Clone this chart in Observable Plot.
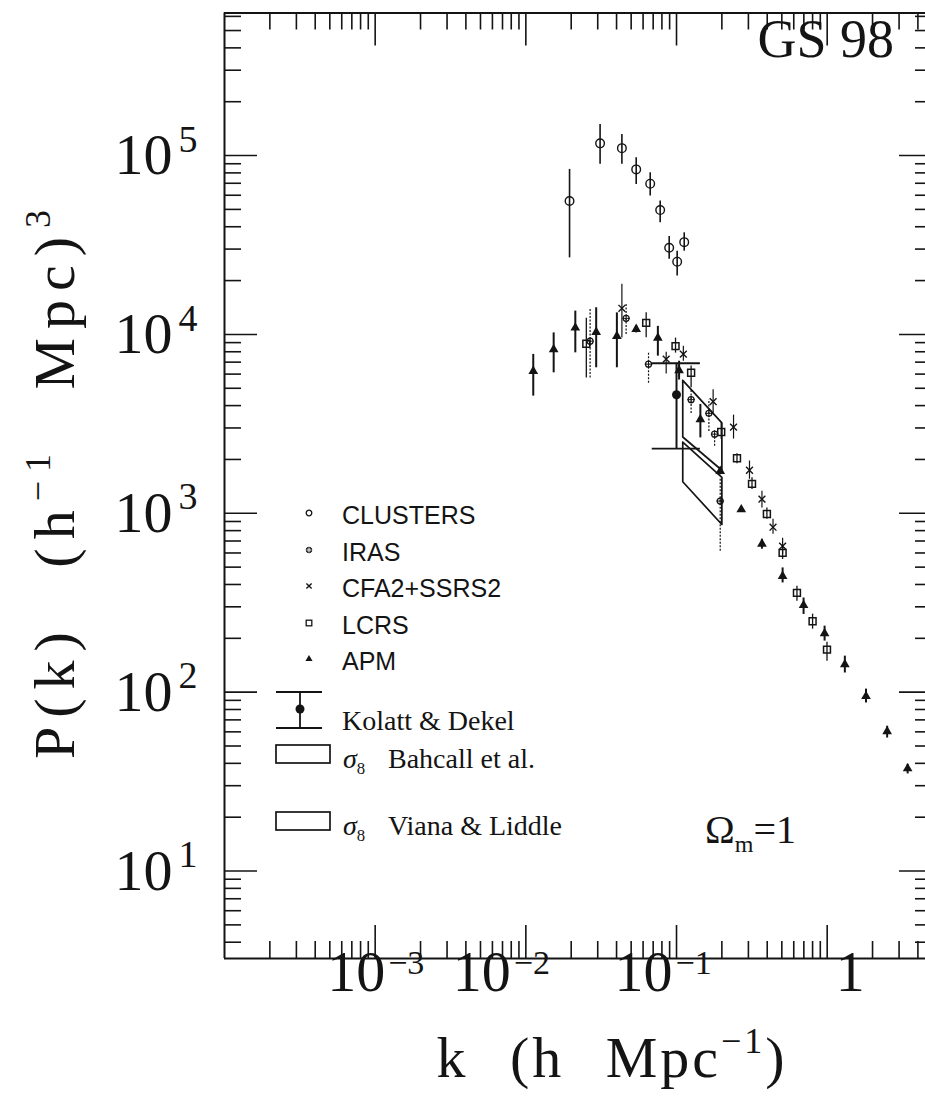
<!DOCTYPE html>
<html>
<head>
<meta charset="utf-8">
<script src="https://cdn.jsdelivr.net/npm/d3@7"></script>
<script src="https://cdn.jsdelivr.net/npm/@observablehq/plot@0.6"></script>
<style>
  html, body { margin: 0; padding: 0; background: #fff; overflow: hidden; }
  #chart { width: 925px; height: 1099px; overflow: hidden; }
  #chart svg { display: block; max-width: none !important; overflow: hidden; }
</style>
</head>
<body>
<div id="chart"></div>
<script>
// Power spectrum P(k) of matter fluctuations: clusters, galaxy surveys,
// peculiar velocities and sigma_8 normalisation boxes (Omega_m = 1).

// CLUSTERS (open circles)
const clusterK  = [0.0195, 0.0311, 0.0434, 0.0540, 0.0669, 0.0779, 0.0894, 0.101, 0.1125];
const clusterP  = [55700, 117000, 110000, 83700, 69600, 49600, 30500, 25500, 32800];
const clusterHi = [83700, 149000, 131000, 97200, 80100, 55700, 35300, 29200, 37000];
const clusterLo = [26800, 89300, 89300, 69000, 59400, 42100, 26300, 21200, 29200];

// IRAS
const irasK  = [0.0267, 0.0463, 0.0652, 0.125, 0.164, 0.179, 0.195];
const irasP  = [9170, 12300, 6820, 4320, 3620, 2770, 1170];
const irasHi = [13900, 14800, 7860, 4910, 4320, 2870, 1550];
const irasLo = [5700, 10000, 5340, 3610, 2870, 2370, 614];

// CFA2+SSRS2
const cfaK  = [0.0434, 0.0854, 0.111, 0.175, 0.239, 0.305, 0.369, 0.437, 0.506];
const cfaP  = [14000, 7280, 7760, 4210, 3030, 1740, 1200, 836, 655];
const cfaHi = [19100, 7960, 8600, 4910, 3540, 1960, 1330, 927, 726];
const cfaLo = [9540, 6000, 7090, 3560, 2600, 1550, 1070, 764, 591];

// LCRS
const lcrsK  = [0.0252, 0.0629, 0.0985, 0.125, 0.198, 0.252, 0.317, 0.398, 0.506, 0.630, 0.800, 0.997];
const lcrsP  = [8860, 11600, 8600, 6100, 2850, 2030, 1460, 992, 601, 359, 249, 173];
const lcrsHi = [12300, 13200, 9540, 6650, 3200, 2150, 1580, 1070, 655, 391, 273, 190];
const lcrsLo = [5700, 9570, 7860, 5030, 2590, 1890, 1360, 927, 552, 322, 225, 149];

// APM
const apmK  = [0.0112, 0.0153, 0.0213, 0.0293, 0.0402, 0.0540, 0.0752, 0.104, 0.144, 0.195,
               0.269, 0.369, 0.506, 0.697, 0.961, 1.31, 1.81, 2.50, 3.42];
const apmP  = [6230, 8250, 10900, 10300, 9780, 10700, 9570, 6290, 3350, 1720,
               1050, 675, 445, 306, 213, 143, 94.9, 60.4, 37.4];
const apmHi = [7730, 10200, 13500, 14100, 13200, 11200, 11100, 7080, 4060, 1800,
               1090, 716, 495, 336, 234, 159, 104, 64.5, 39.5];
const apmLo = [4520, 6100, 7890, 6510, 6510, 10200, 7560, 5560, 2640, 1640,
               1010, 630, 408, 272, 193, 128, 87.0, 55.4, 34.9];

// Kolatt & Dekel: P(k = 0.1) with its error and k window
const kdK = [0.1];
const kdP = [4600];
const kdHi = [6900];
const kdLo = [2300];
const kdKWindow = [0.069, 0.144];

// sigma_8 boxes: k range, upper and lower P at both ends
const sigma8K = [0.11, 0.20];
const bahcallTop = [5530, 3200];
const bahcallBottom = [2670, 1740];
const vianaTop = [2500, 1590];
const vianaBottom = [1500, 866];

// axes: domains, ticks and labels
const kDomain = [1e-4, 5];
const pDomain = [10 ** 0.511, 10 ** 5.797];
const xMajor = [1e-3, 1e-2, 1e-1, 1];
const xMinor = [-4, -3, -2, -1, 0].flatMap(e => [2, 3, 4, 5, 6, 7, 8, 9].map(m => m * 10 ** e)).filter(v => v < 5);
const yMajor = [1e1, 1e2, 1e3, 1e4, 1e5];
const yMinor = [0, 1, 2, 3, 4, 5].flatMap(e => [2, 3, 4, 5, 6, 7, 8, 9].map(m => m * 10 ** e)).filter(v => v > 3.3 && v < 6.2e5);
const xLabelTicks = [1e-3, 1e-2, 1e-1, 1];
const legendNames = ["CLUSTERS", "IRAS", "CFA2+SSRS2", "LCRS", "APM"];

// ---------------------------------------------------------------------------
// the frame runs on past the right edge of the page (k up to 5)
const W = 925, H = 1099;
const M = {left: 224, right: -7, top: 12.5, bottom: 141};
const innerW = W - M.left - M.right;
const innerH = H - M.top - M.bottom;
const ink = "#141414";
const serif = "'Liberation Serif', 'Times New Roman', serif";
const sans = "'Liberation Sans', Arial, sans-serif";
const MAJOR = 33, MINOR = 17;

const rows = (k, p, lo, hi) => k.map((d, i) => ({k: d, p: p[i], lo: lo[i], hi: hi[i]}));
const clusters = rows(clusterK, clusterP, clusterLo, clusterHi);
const iras = rows(irasK, irasP, irasLo, irasHi);
const cfa = rows(cfaK, cfaP, cfaLo, cfaHi);
const lcrs = rows(lcrsK, lcrsP, lcrsLo, lcrsHi);
const apm = rows(apmK, apmP, apmLo, apmHi);
const kd = kdK.map((k, i) => ({k, p: kdP[i], lo: kdLo[i], hi: kdHi[i], k1: kdKWindow[0], k2: kdKWindow[1]}));

const boxOutline = (name, top, bottom) => [
  {box: name, k: sigma8K[0], p: top[0]},
  {box: name, k: sigma8K[1], p: top[1]},
  {box: name, k: sigma8K[1], p: bottom[1]},
  {box: name, k: sigma8K[0], p: bottom[0]},
  {box: name, k: sigma8K[0], p: top[0]}
];
const boxes = [...boxOutline("Bahcall et al.", bahcallTop, bahcallBottom),
               ...boxOutline("Viana & Liddle", vianaTop, vianaBottom)];

// label nudges (px) for the k tick labels
const xLabelNudge = [10, -15, -4, 23];

const xLabelMarks = xLabelTicks.flatMap((t, i) => {
  const e = Math.round(Math.log10(t));
  if (e === 0) {
    return [Plot.text([t], {x: d => d, frameAnchor: "bottom", text: () => "1", dx: xLabelNudge[i], dy: 32,
      fontSize: 58, fontFamily: serif, fill: ink, textAnchor: "middle"})];
  }
  return [
    Plot.text([t], {x: d => d, frameAnchor: "bottom", text: () => "10", dx: xLabelNudge[i], dy: 32,
      fontSize: 58, fontFamily: serif, fill: ink, textAnchor: "end"}),
    Plot.text([t], {x: d => d, frameAnchor: "bottom", text: () => "\u2212" + (-e), dx: xLabelNudge[i] + 3, dy: 15,
      fontSize: 34, fontFamily: serif, fill: ink, textAnchor: "start"})
  ];
});

const chart = Plot.plot({
  width: W,
  height: H,
  marginLeft: M.left,
  marginRight: M.right,
  marginTop: M.top,
  marginBottom: M.bottom,
  style: {background: "white", overflow: "hidden"},
  x: {type: "log", domain: kDomain, range: [M.left, W - M.right], axis: null},
  y: {type: "log", domain: pDomain, axis: null},
  marks: [
    // inward ticks on all four sides
    Plot.ruleX(xMinor, {x: d => d, insetTop: innerH - MINOR, stroke: ink, strokeWidth: 1.6}),
    Plot.ruleX(xMinor, {x: d => d, insetBottom: innerH - MINOR, stroke: ink, strokeWidth: 1.6}),
    Plot.ruleX(xMajor, {x: d => d, insetTop: innerH - MAJOR, stroke: ink, strokeWidth: 1.6}),
    Plot.ruleX(xMajor, {x: d => d, insetBottom: innerH - MAJOR, stroke: ink, strokeWidth: 1.6}),
    Plot.ruleY(yMinor, {y: d => d, insetRight: innerW - MINOR, stroke: ink, strokeWidth: 1.6}),
    Plot.ruleY(yMinor, {y: d => d, insetLeft: innerW - MINOR, stroke: ink, strokeWidth: 1.6}),
    Plot.ruleY(yMajor, {y: d => d, insetRight: innerW - MAJOR, stroke: ink, strokeWidth: 1.6}),
    Plot.ruleY(yMajor, {y: d => d, insetLeft: innerW - MAJOR, stroke: ink, strokeWidth: 1.6}),

    // frame edges (the right edge falls beyond the page)
    Plot.ruleX(kDomain, {x: d => d, stroke: ink, strokeWidth: 2}),
    Plot.ruleY(pDomain, {y: d => d, stroke: ink, strokeWidth: 2}),

    // P(k) tick labels
    Plot.text(yMajor, {y: d => d, frameAnchor: "left", text: () => "10", dx: -52, textAnchor: "end",
      fontSize: 58, fontFamily: serif, fill: ink}),
    Plot.text(yMajor, {y: d => d, frameAnchor: "left", text: d => String(Math.round(Math.log10(d))), dx: -46, dy: -16,
      textAnchor: "start", fontSize: 38, fontFamily: serif, fill: ink}),
    ...xLabelMarks,

    // sigma_8 boxes
    Plot.line(boxes, {x: "k", y: "p", z: "box", stroke: ink, strokeWidth: 1.7}),

    // error bars
    Plot.ruleX(clusters, {x: "k", y1: "lo", y2: "hi", stroke: ink, strokeWidth: 1.6}),
    Plot.ruleX(apm, {x: "k", y1: "lo", y2: "hi", stroke: ink, strokeWidth: 2}),
    Plot.ruleX(lcrs, {x: "k", y1: "lo", y2: "hi", stroke: ink, strokeWidth: 1.3}),
    Plot.ruleX(cfa, {x: "k", y1: "lo", y2: "hi", stroke: ink, strokeWidth: 1.2}),
    Plot.ruleX(iras, {x: "k", y1: "lo", y2: "hi", stroke: ink, strokeWidth: 1.2, strokeDasharray: "2,1.5"}),

    // points
    Plot.dot(clusters, {x: "k", y: "p", r: 4.3, stroke: ink, fill: "none", strokeWidth: 1.4}),
    Plot.dot(lcrs, {x: "k", y: "p", symbol: "square", r: 3.9, stroke: ink, fill: "none", strokeWidth: 1.5}),
    Plot.dot(cfa, {x: "k", y: "p", symbol: "times", r: 3.2, stroke: ink, strokeWidth: 1.4}),
    Plot.dot(iras, {x: "k", y: "p", r: 3, stroke: ink, fill: "none", strokeWidth: 1.2}),
    Plot.dot(iras, {x: "k", y: "p", symbol: "plus", r: 2.6, stroke: ink, strokeWidth: 1}),
    Plot.dot(apm, {x: "k", y: "p", symbol: "triangle", r: 3.6, fill: ink, stroke: "none"}),

    // Kolatt & Dekel
    Plot.ruleX(kd, {x: "k", y1: "lo", y2: "hi", stroke: ink, strokeWidth: 2}),
    Plot.ruleY(kd, {y: "hi", x1: "k1", x2: "k2", stroke: ink, strokeWidth: 1.8}),
    Plot.ruleY(kd, {y: "lo", x1: "k1", x2: "k2", stroke: ink, strokeWidth: 1.8}),
    Plot.dot(kd, {x: "k", y: "p", r: 4.5, fill: ink, stroke: "none"}),

    // run label
    Plot.text(["GS 98"], {frameAnchor: "top-left", dx: 533, dy: 27, fontSize: 54, fontFamily: serif,
      fill: ink, textAnchor: "start", lineAnchor: "middle", letterSpacing: 1})
  ]
});

chart.style.maxWidth = "none";
document.getElementById("chart").append(chart);

// ---------------------------------------------------------------------------
// titles and legend
const svg = d3.select(chart);
const deco = svg.append("g")
  .attr("fill", ink)
  .attr("text-anchor", "start")
  .attr("font-family", serif);

function richText(parent, parts, {x, y, size, family, anchor = "start", rotate = 0, letterSpacing = 0, wordSpacing = 0}) {
  const t = parent.append("text")
    .attr("transform", `translate(${x},${y})` + (rotate ? ` rotate(${rotate})` : ""))
    .attr("text-anchor", anchor)
    .attr("font-family", family)
    .attr("font-size", size)
    .attr("letter-spacing", letterSpacing)
    .attr("word-spacing", wordSpacing)
    .attr("fill", ink);
  let shift = 0;
  for (const p of parts) {
    const target = p.sup ? -size * 0.42 : p.sub ? size * 0.22 : 0;
    t.append("tspan")
      .attr("dy", target - shift)
      .attr("font-size", p.sup || p.sub ? size * (p.scale || 0.62) : size)
      .attr("font-style", p.italic ? "italic" : null)
      .text(p.t);
    shift = target;
  }
  return t;
}

// axis titles
richText(deco, [{t: "P(k) (h"}, {t: "\u22121", sup: true}, {t: " Mpc)"}, {t: "3", sup: true}],
  {x: 74, y: 480, size: 58, family: serif, anchor: "middle", rotate: -90, letterSpacing: 9, wordSpacing: 32});
richText(deco, [{t: "k (h Mpc"}, {t: "\u22121", sup: true}, {t: ")"}],
  {x: 612, y: 1077, size: 58, family: serif, anchor: "middle", letterSpacing: 3, wordSpacing: 24});

// Omega_m annotation
richText(deco, [{t: "\u03A9"}, {t: "m", sub: true, scale: 0.6}, {t: "=1"}],
  {x: 705, y: 843, size: 40, family: serif});

// legend: survey symbols
const legendY = [513, 550, 586, 623, 659];
const legendSym = [
  g => g.append("circle").attr("r", 2.8).attr("fill", "none").attr("stroke", ink).attr("stroke-width", 1.3),
  g => { g.append("circle").attr("r", 2.8).attr("fill", "#555").attr("stroke", ink).attr("stroke-width", 1);
         g.append("path").attr("d", "M-2.5,0H2.5M0,-2.5V2.5").attr("stroke", "#fff").attr("stroke-width", 0.8); },
  g => g.append("path").attr("d", "M-2.6,-2.6L2.6,2.6M-2.6,2.6L2.6,-2.6").attr("stroke", ink).attr("stroke-width", 1.4),
  g => g.append("rect").attr("x", -2.8).attr("y", -2.8).attr("width", 5.6).attr("height", 5.6)
        .attr("fill", "none").attr("stroke", ink).attr("stroke-width", 1.3),
  g => g.append("path").attr("d", d3.symbol(d3.symbolTriangle, 22)()).attr("fill", ink)
];
legendNames.forEach((name, i) => {
  const g = deco.append("g").attr("transform", `translate(309,${legendY[i]})`);
  legendSym[i](g);
  deco.append("text")
    .attr("x", 342).attr("y", legendY[i] + 4)
    .attr("dominant-baseline", "middle")
    .attr("text-anchor", "start")
    .attr("font-family", sans).attr("font-size", 25)
    .attr("fill", ink)
    .text(name);
});

// legend: Kolatt & Dekel error bar
const kdLeg = deco.append("g").attr("stroke", ink).attr("stroke-width", 1.8);
kdLeg.append("line").attr("x1", 276).attr("x2", 322).attr("y1", 692).attr("y2", 692);
kdLeg.append("line").attr("x1", 276).attr("x2", 322).attr("y1", 728).attr("y2", 728);
kdLeg.append("line").attr("x1", 300).attr("x2", 300).attr("y1", 692).attr("y2", 728);
deco.append("circle").attr("cx", 300).attr("cy", 709).attr("r", 4.5).attr("fill", ink);
deco.append("text").attr("x", 342).attr("y", 730)
  .attr("text-anchor", "start")
  .attr("font-family", serif).attr("font-size", 28).attr("fill", ink)
  .text("Kolatt & Dekel");

// legend: sigma_8 boxes
[["Bahcall et al.", 745], ["Viana & Liddle", 812]].forEach(([name, top]) => {
  deco.append("rect").attr("x", 276).attr("y", top).attr("width", 54).attr("height", 18)
    .attr("fill", "none").attr("stroke", ink).attr("stroke-width", 1.7);
  richText(deco, [{t: "\u03C3", italic: true}, {t: "8", sub: true, scale: 0.6}],
    {x: 343, y: top + 23, size: 28, family: serif});
  deco.append("text").attr("x", 388).attr("y", top + 23)
    .attr("text-anchor", "start")
    .attr("font-family", serif).attr("font-size", 28).attr("fill", ink)
    .text(name);
});
</script>
</body>
</html>
